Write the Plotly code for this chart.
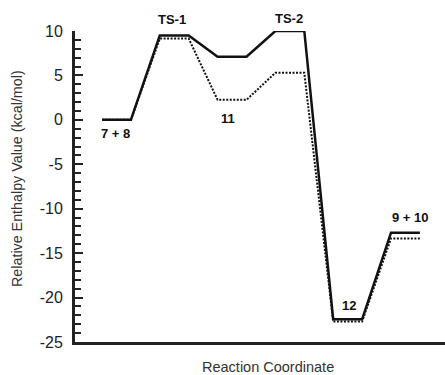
import plotly.graph_objects as go

# ---- data ----
states = ["7 + 8", "TS-1", "11", "TS-2", "12", "9 + 10"]
solid_levels = [0.0, 9.5, 7.1, 10.0, -22.45, -12.7]
dotted_levels = [0.0, 9.15, 2.25, 5.3, -22.7, -13.35]
y_ticks = [-25, -20, -15, -10, -5, 0, 5, 10]
y_ticktext = ["-25", "-20", "-15", "-10", "-5", "0", "5", "10"]

# label placement (in axis coordinates)
label_pos = [(0.48, -1.5), (2.42, 11.25), (4.35, 0.2), (6.47, 11.45), (8.56, -20.85), (10.66, -11.0)]


def step_path(levels):
    xs, ys = [], []
    for i, v in enumerate(levels):
        xs += [2 * i, 2 * i + 1]
        ys += [v, v]
    return xs, ys


W, H = 445, 375
L, R, T, B = 75, 0, 31, 33
pw, ph = W - L - R, H - T - B
YMIN, YMAX = -25, 10

FONT = "Liberation Sans, Arial, sans-serif"

xmin = -(102 - L) / 28.9
xmax = xmin + pw / 28.9

fig = go.Figure()
xd, yd = step_path(dotted_levels)
fig.add_trace(go.Scatter(x=xd, y=yd, mode="lines",
                         line=dict(color="#111", width=2, dash="2px,1.5px"),
                         hoverinfo="skip", showlegend=False))
xs, ys = step_path(solid_levels)
fig.add_trace(go.Scatter(x=xs, y=ys, mode="lines",
                         line=dict(color="#111", width=2.5),
                         hoverinfo="skip", showlegend=False))

for name, (lx, ly) in zip(states, label_pos):
    fig.add_annotation(x=(lx - xmin) / (xmax - xmin), y=(ly - YMIN) / (YMAX - YMIN),
                       xref="paper", yref="paper", text=f"<b>{name}</b>",
                       showarrow=False, xanchor="center", yanchor="middle",
                       font=dict(family=FONT, size=13, color="#111"))

# axis titles as annotations
fig.add_annotation(xref="paper", yref="paper",
                   x=(17 - L) / pw, y=(H - B - 179) / ph,
                   text="Relative Enthalpy Value (kcal/mol)", textangle=-90,
                   showarrow=False, xanchor="center", yanchor="middle",
                   font=dict(family=FONT, size=14.3, color="#333"))
fig.add_annotation(xref="paper", yref="paper",
                   x=(267.5 - L) / pw, y=-(367 - (H - B)) / ph,
                   text="Reaction Coordinate",
                   showarrow=False, xanchor="center", yanchor="middle",
                   font=dict(family=FONT, size=14.5, color="#333"))

fig.update_layout(
    width=W, height=H,
    margin=dict(l=L, r=R, t=T, b=B, pad=0),
    paper_bgcolor="white", plot_bgcolor="white",
    xaxis=dict(range=[xmin, xmax], showgrid=False, zeroline=False,
               showticklabels=False, ticks="", showline=True,
               linewidth=3, linecolor="#222"),
    yaxis=dict(range=[YMIN, YMAX], tickvals=y_ticks, ticktext=y_ticktext,
               showgrid=False, zeroline=False,
               ticks="inside", ticklen=8, tickwidth=2, tickcolor="#222",
               showline=True, linewidth=3, linecolor="#222",
               ticklabelstandoff=6,
               tickfont=dict(family=FONT, size=16, color="#222"),
               minor=dict(dtick=1, ticks="inside", ticklen=6, tickwidth=1.5,
                          tickcolor="#222", showgrid=False)),
)

fig.write_html("out.html")
